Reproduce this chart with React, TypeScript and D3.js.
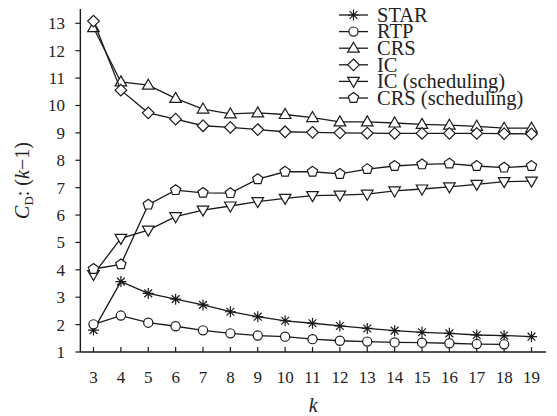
import React from "react";
import * as d3 from "d3";

const kValues = [3, 4, 5, 6, 7, 8, 9, 10, 11, 12, 13, 14, 15, 16, 17, 18, 19];
const starValues = [1.8, 3.57, 3.14, 2.93, 2.72, 2.47, 2.29, 2.14, 2.05, 1.95, 1.86, 1.78, 1.72, 1.68, 1.62, 1.6, 1.56];
const rtpValues = [2.01, 2.33, 2.07, 1.94, 1.79, 1.68, 1.6, 1.56, 1.47, 1.41, 1.38, 1.35, 1.34, 1.32, 1.29, 1.28];
const crsValues = [12.84, 10.86, 10.74, 10.26, 9.87, 9.69, 9.73, 9.67, 9.56, 9.4, 9.4, 9.36, 9.31, 9.28, 9.24, 9.17, 9.17];
const icValues = [13.08, 10.56, 9.73, 9.5, 9.26, 9.2, 9.12, 9.04, 9.02, 9.0, 8.99, 8.98, 8.98, 8.98, 8.98, 8.97, 8.96];
const icSchedValues = [3.83, 5.15, 5.45, 5.94, 6.18, 6.33, 6.49, 6.61, 6.71, 6.73, 6.76, 6.88, 6.95, 7.03, 7.12, 7.22, 7.24];
const crsSchedValues = [4.03, 4.2, 6.38, 6.91, 6.81, 6.8, 7.31, 7.58, 7.58, 7.5, 7.68, 7.79, 7.85, 7.88, 7.79, 7.73, 7.79];
const seriesNames = ["STAR", "RTP", "CRS", "IC", "IC (scheduling)", "CRS (scheduling)"];
const yTicks = [1, 2, 3, 4, 5, 6, 7, 8, 9, 10, 11, 12, 13];

const FONT = "'Liberation Serif', 'Times New Roman', serif";

type Kind = "star" | "circle" | "tri" | "diamond" | "tridown" | "pent";

const shapeType = (kind: Kind) => ({
  draw(ctx: any, _size: number) {
    if (kind === "circle") {
      ctx.moveTo(4.6, 0);
      ctx.arc(0, 0, 4.6, 0, Math.PI * 2);
    } else if (kind === "tri") {
      ctx.moveTo(0, -6);
      ctx.lineTo(5.8, 4);
      ctx.lineTo(-5.8, 4);
      ctx.closePath();
    } else if (kind === "tridown") {
      ctx.moveTo(0, 6);
      ctx.lineTo(5.8, -4);
      ctx.lineTo(-5.8, -4);
      ctx.closePath();
    } else if (kind === "diamond") {
      ctx.moveTo(0, -5.8);
      ctx.lineTo(5.8, 0);
      ctx.lineTo(0, 5.8);
      ctx.lineTo(-5.8, 0);
      ctx.closePath();
    } else if (kind === "pent") {
      const r = 5.4;
      for (let i = 0; i < 5; i++) {
        const a = -Math.PI / 2 + (i * 2 * Math.PI) / 5;
        const px = r * Math.cos(a);
        const py = r * Math.sin(a);
        if (i === 0) ctx.moveTo(px, py);
        else ctx.lineTo(px, py);
      }
      ctx.closePath();
    } else {
      const r = 5.5;
      for (let i = 0; i < 4; i++) {
        const a = (i * Math.PI) / 4;
        ctx.moveTo(r * Math.cos(a), r * Math.sin(a));
        ctx.lineTo(-r * Math.cos(a), -r * Math.sin(a));
      }
    }
  },
});

const seriesList: { name: string; values: number[]; kind: Kind }[] = [
  { name: seriesNames[0], values: starValues, kind: "star" },
  { name: seriesNames[1], values: rtpValues, kind: "circle" },
  { name: seriesNames[2], values: crsValues, kind: "tri" },
  { name: seriesNames[3], values: icValues, kind: "diamond" },
  { name: seriesNames[4], values: icSchedValues, kind: "tridown" },
  { name: seriesNames[5], values: crsSchedValues, kind: "pent" },
];

export default function App() {
  const x = d3.scaleLinear().domain([3, 19]).range([93.5, 531.5]);
  const y = d3.scaleLinear().domain([1, 13]).range([352, 23.3]);
  const axisX0 = x(2.52);
  const axisX1 = x(19.53);
  const axisYTop = y(13.52);
  const stroke = "#1a1a1a";

  const line = d3
    .line<[number, number]>()
    .x((d) => x(d[0]))
    .y((d) => y(d[1]));

  const legendX0 = 339;
  const legendX1 = 368;
  const legendY = (i: number) => 15 + i * 16.6;

  return (
    <svg
      width={557}
      height={416}
      style={{ position: "absolute", left: 0, top: 0, background: "#fff" }}
      fontFamily={FONT}
    >
      <rect width={557} height={416} fill="#fff" />
      {/* axes */}
      <line x1={axisX0} x2={axisX1} y1={y(1)} y2={y(1)} stroke={stroke} strokeWidth={1.4} />
      <line x1={axisX0} x2={axisX0} y1={y(1)} y2={axisYTop} stroke={stroke} strokeWidth={1.4} />
      {yTicks.map((t) => (
        <g key={"yt" + t}>
          <line x1={axisX0 - 5} x2={axisX0} y1={y(t)} y2={y(t)} stroke={stroke} strokeWidth={1.2} />
          <text x={65} y={y(t) + 6} textAnchor="end" fontSize={17} fill="#222">
            {t}
          </text>
        </g>
      ))}
      {kValues.map((k) => (
        <g key={"xt" + k}>
          <line x1={x(k)} x2={x(k)} y1={y(1)} y2={y(1) - 5} stroke={stroke} strokeWidth={1.2} />
          <text x={x(k)} y={383} textAnchor="middle" fontSize={17} fill="#222">
            {k}
          </text>
        </g>
      ))}
      <text x={(axisX0 + axisX1) / 2} y={412} textAnchor="middle" fontSize={20} fontStyle="italic" fill="#222">
        k
      </text>
      <text
        transform={`translate(29, ${(y(1) + axisYTop) / 2}) rotate(-90)`}
        textAnchor="middle"
        fontSize={20}
        fill="#222"
      >
        <tspan fontStyle="italic">C</tspan>
        <tspan fontSize={13} dy={4}>D</tspan>
        <tspan dy={-4}>: (</tspan>
        <tspan fontStyle="italic">k</tspan>
        <tspan>−1)</tspan>
      </text>

      {/* series */}
      {seriesList.map((s) => {
        const pts: [number, number][] = s.values.map((v, i) => [kValues[i], v]);
        const sym = d3.symbol().type(shapeType(s.kind) as any)();
        return (
          <g key={s.name}>
            <path d={line(pts) || ""} fill="none" stroke={stroke} strokeWidth={1.3} />
            {pts.map((p, i) => (
              <path
                key={i}
                d={sym || ""}
                transform={`translate(${x(p[0])},${y(p[1])})`}
                fill="#fff"
                stroke={stroke}
                strokeWidth={1.2}
              />
            ))}
          </g>
        );
      })}

      {/* legend */}
      {seriesList.map((s, i) => {
        const sym = d3.symbol().type(shapeType(s.kind) as any)();
        const cy = legendY(i);
        return (
          <g key={"lg" + s.name}>
            <line x1={legendX0} x2={legendX1} y1={cy} y2={cy} stroke={stroke} strokeWidth={1.3} />
            <path
              d={sym || ""}
              transform={`translate(${(legendX0 + legendX1) / 2},${cy})`}
              fill="#fff"
              stroke={stroke}
              strokeWidth={1.2}
            />
            <text x={377} y={cy + 6.8} fontSize={20.5} fill="#222">
              {s.name}
            </text>
          </g>
        );
      })}
    </svg>
  );
}
